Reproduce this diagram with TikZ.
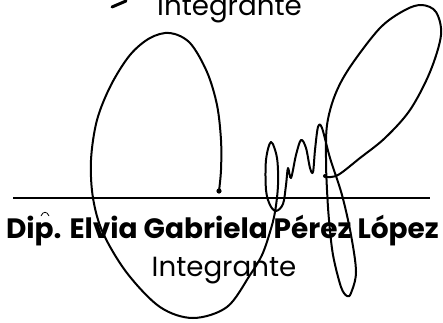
\documentclass[tikz,border=0pt]{standalone}
\usepackage{fontspec}
\setmainfont{Poppins}
\begin{document}
\begin{tikzpicture}[x=1pt,y=-1pt,
  ink/.style={line width=2pt,line cap=round,line join=round,black},
  nametext/.style={anchor=base,inner sep=0pt,font=\fontsize{28}{30}\selectfont\bfseries},
  roletext/.style={anchor=base,inner sep=0pt,font=\fontsize{27.7}{30}\selectfont}]
\fill[white] (0,0) rectangle (443,322);
\useasboundingbox (0,0) rectangle (443,322);
% texts
\node[roletext] (roletop) at (229.5,15) {Integrante};
\node[nametext] (name) at (222.5,238) {Dip. Elvia Gabriela Pérez López};
\node[roletext] (role) at (224,276) {Integrante};
% signature rule
\draw[line width=2pt] (13,198) -- (430,198);
% small stroke at top left
\draw[line width=3pt,line cap=round] (112,7) -- (126,1);
% hat mark over p
\draw[line width=0.8pt] (41,216) .. controls (43,211) and (47,211) .. (49,216);
% signature
\draw[ink] plot[smooth,tension=0.55] coordinates {
(219,191) (221,170) (221,140) (217,105) (207,72) (190,43) (170,33) (150,38) (130,55) (111,85) (97,120) (91,160) (93,198) (103,233) (127,273) (160,307) (193,318) (227,307) (250,275) (262,255) (270,232) (275,212) (278,185) (277,158) (271,142) (266,160) (266,190) (270,205) (276,211) (283,204) (286,185) (288,168) (291,178) (296,155) (301,140) (306,148) (310,168) (313,172) (315,150) (318,127) (322,128) (330,158) (342,195) (351,235) (356,272) (351,293) (347,296) (341,287) (333,255) (329,220) (327,190) (326,160) (327,125) (335,95) (350,67) (380,28) (405,10) (422,5) (436,12) (441,35) (430,72) (410,110) (385,138) (360,158) (338,175) (326,177)};
\fill (219,191) circle (2.6pt);
\fill (325,176) circle (2pt);
\end{tikzpicture}
\end{document}
